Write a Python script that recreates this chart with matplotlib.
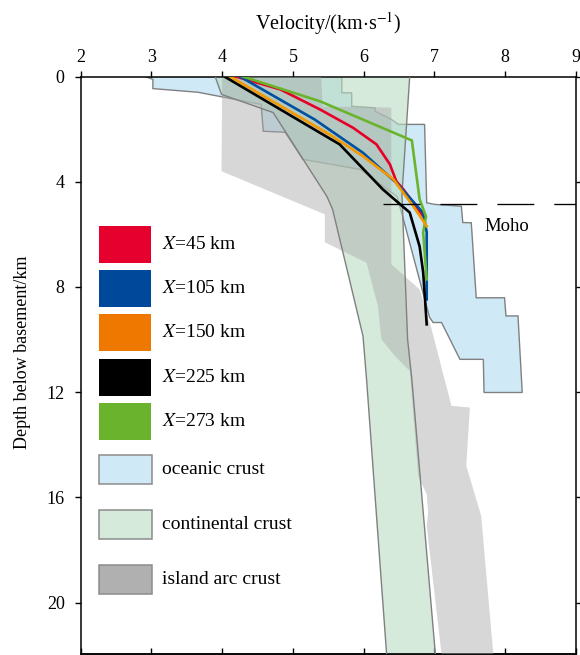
import matplotlib
matplotlib.use("Agg")
import matplotlib.pyplot as plt
from matplotlib.patches import Polygon, Rectangle

plt.rcParams["font.family"] = "Liberation Serif"
plt.rcParams["mathtext.fontset"] = "stix"
plt.rcParams["lines.scale_dashes"] = False

# ---- crust envelopes: velocity (km/s) vs depth below basement (km) ----
ocean_v = [2.91, 3.02, 3.02, 3.66, 4.55, 4.58, 4.89, 5.14, 5.95, 6.47, 6.55, 6.93,
           6.98, 7.10, 7.36, 7.69, 7.70, 8.24, 8.18, 8.01, 7.99, 7.59, 7.52, 7.40,
           7.38, 7.00, 6.89, 6.86, 6.49, 6.39, 6.16, 6.16, 5.83, 5.83, 5.69, 5.69]
ocean_d = [0.0, 0.11, 0.46, 0.60, 1.06, 2.08, 2.12, 3.15, 3.53, 4.56, 5.32, 9.15,
           9.35, 9.35, 10.75, 10.75, 12.01, 12.01, 9.10, 9.10, 8.41, 8.41, 5.56, 5.55,
           4.93, 4.86, 4.80, 1.82, 1.82, 1.63, 1.32, 1.19, 1.13, 0.62, 0.62, 0.0]

cont_v = [3.90, 3.99, 4.72, 5.48, 5.56, 5.99, 6.04, 6.33, 7.02, 6.68, 6.62, 6.54, 6.65]
cont_d = [0.0, 0.68, 1.37, 4.56, 5.05, 9.87, 11.51, 22.2, 22.2, 11.51, 9.99, 4.48, 0.0]

arc_v = [4.00, 3.99, 5.45, 5.45, 6.04, 6.20, 6.25, 6.44, 6.65, 6.77, 6.89, 6.91, 6.89,
         7.11, 7.84, 7.66, 7.45, 7.50, 7.24, 6.96, 6.79, 6.39, 6.39, 5.42, 5.40]
arc_d = [0.0, 3.60, 5.24, 6.30, 7.08, 8.72, 9.99, 10.62, 11.19, 15.18, 15.88, 16.57, 17.08,
         22.2, 22.2, 16.70, 14.80, 12.58, 12.52, 9.61, 8.09, 7.14, 1.18, 1.14, 0.0]

# ---- velocity profiles at different X positions ----
x45_v = [4.19, 4.82, 5.38, 5.85, 6.18, 6.37, 6.46, 6.56, 6.65, 6.84]
x45_d = [0.0, 0.49, 1.25, 1.95, 2.58, 3.34, 3.98, 4.29, 4.61, 5.31]

x105_v = [4.25, 5.31, 5.99, 6.46, 6.84, 6.89, 6.89]
x105_d = [0.0, 1.64, 2.90, 4.04, 5.18, 5.92, 8.47]

x150_v = [4.11, 5.52, 5.99, 6.42, 6.70, 6.89]
x150_d = [0.0, 2.21, 3.03, 3.91, 4.93, 5.69]

x225_v = [4.03, 5.66, 6.27, 6.65, 6.79, 6.84, 6.89]
x225_d = [0.0, 2.58, 4.29, 5.17, 6.46, 7.44, 9.42]

x273_v = [4.29, 5.38, 6.68, 6.79, 6.88, 6.84, 6.89]
x273_d = [0.0, 0.94, 2.43, 4.67, 5.32, 5.93, 7.71]

moho_depth = 4.85
moho_v = [6.27, 9.5]

profile_names = ["45", "105", "150", "225", "273"]
line_colors = ["#e60028", "#0050a0", "#f39800", "#000000", "#6ab42d"]
box_colors = ["#e6002d", "#00489a", "#ee7800", "#000000", "#6ab42d"]
crust_names = ["oceanic crust", "continental crust", "island arc crust"]
crust_colors = ["#cfe9f7", "#d5eadb", "#b0b0b0"]

fig = plt.figure(figsize=(5.8, 6.55), dpi=100)
ax = fig.add_axes([80.7 / 580, 1.5 / 655, 495.3 / 580, 577 / 655])

# crust fields (ocean outline sits under the other fields)
ax.add_patch(Polygon(list(zip(ocean_v, ocean_d)), closed=True, facecolor="#cfe9f7",
                     edgecolor="#808080", lw=1.0, zorder=1))
ax.add_patch(Polygon(list(zip(cont_v, cont_d)), closed=True, facecolor="#b9dcc3",
                     alpha=0.6, edgecolor="none", zorder=2))
ax.add_patch(Polygon(list(zip(arc_v, arc_d)), closed=True, facecolor="#a8a8a8",
                     alpha=0.45, edgecolor="none", zorder=3))
ax.add_patch(Polygon(list(zip(cont_v, cont_d)), closed=True, facecolor="none",
                     edgecolor="#808080", lw=1.0, zorder=4))

# profiles
profiles = [(x45_v, x45_d), (x105_v, x105_d), (x273_v, x273_d),
            (x150_v, x150_d), (x225_v, x225_d)]
order_colors = [line_colors[0], line_colors[1], line_colors[4], line_colors[2], line_colors[3]]
for (v, d), c in zip(profiles, order_colors):
    ax.plot(v, d, color=c, lw=1.9, zorder=6, solid_joinstyle="round")

# Moho
ax.plot(moho_v, [moho_depth, moho_depth], color="black", lw=0.95,
        dashes=(26.6, 14.4), zorder=7)
ax.text(7.71, 5.88, "Moho", fontsize=13.5, ha="left", va="baseline", zorder=8)

ax.set_xlim(2, 9)
ax.set_ylim(21.93, 0)
ax.set_xticks(range(2, 10))
ax.set_yticks(range(0, 21, 4))
ax.tick_params(axis="x", bottom=False, top=True, labelbottom=False, labeltop=True,
               direction="out", length=4.5, width=1.0, labelsize=13, pad=3)
ax.tick_params(axis="y", left=True, right=True, direction="out", length=4.5,
               width=1.0, labelsize=13, pad=7)
for s in ax.spines.values():
    s.set_linewidth(1.1)

sec = ax.secondary_xaxis("bottom")
sec.set_xticks(range(2, 10))
sec.tick_params(direction="in", length=4.5, width=1.0, labelbottom=False)
sec.spines["bottom"].set_linewidth(1.1)

fig.text(328.5 / 580, 1 - 29.5 / 655, r"Velocity/(km$\cdot$s$^{-1}$)", fontsize=14.5,
         ha="center", va="baseline")
fig.text(23 / 580, 1 - 352 / 655, "Depth below basement/km", fontsize=13,
         rotation=90, ha="center", va="center")

# legend drawn by hand (pixel layout -> axes fraction)
def ax_x(px):
    return (px - 80.7) / 495.3

def ax_y(py):
    return (654 - py) / 577

for i, (name, c) in enumerate(zip(profile_names, box_colors)):
    top = 226.7 + 44.1 * i
    ax.add_patch(Rectangle((ax_x(99.3), ax_y(top + 37)), 51.7 / 495.3, 37 / 577,
                           transform=ax.transAxes, facecolor=c, edgecolor="none", zorder=9))
    ax.text(ax_x(161.7), ax_y(top + 18.5), r"$X$=" + name + " km", fontsize=14,
            transform=ax.transAxes, ha="left", va="center", zorder=9)

for i, (name, c) in enumerate(zip(crust_names, crust_colors)):
    top = 455.3 + 55 * i
    ax.add_patch(Rectangle((ax_x(98.7), ax_y(top + 28.7)), 53.7 / 495.3, 28.7 / 577,
                           transform=ax.transAxes, facecolor=c, edgecolor="#8c8c8c",
                           lw=1.1, zorder=9))
    ax.text(ax_x(161.7), ax_y(top + 14.5), name, fontsize=14,
            transform=ax.transAxes, ha="left", va="center", zorder=9)

fig.savefig("out.png", dpi=100)
